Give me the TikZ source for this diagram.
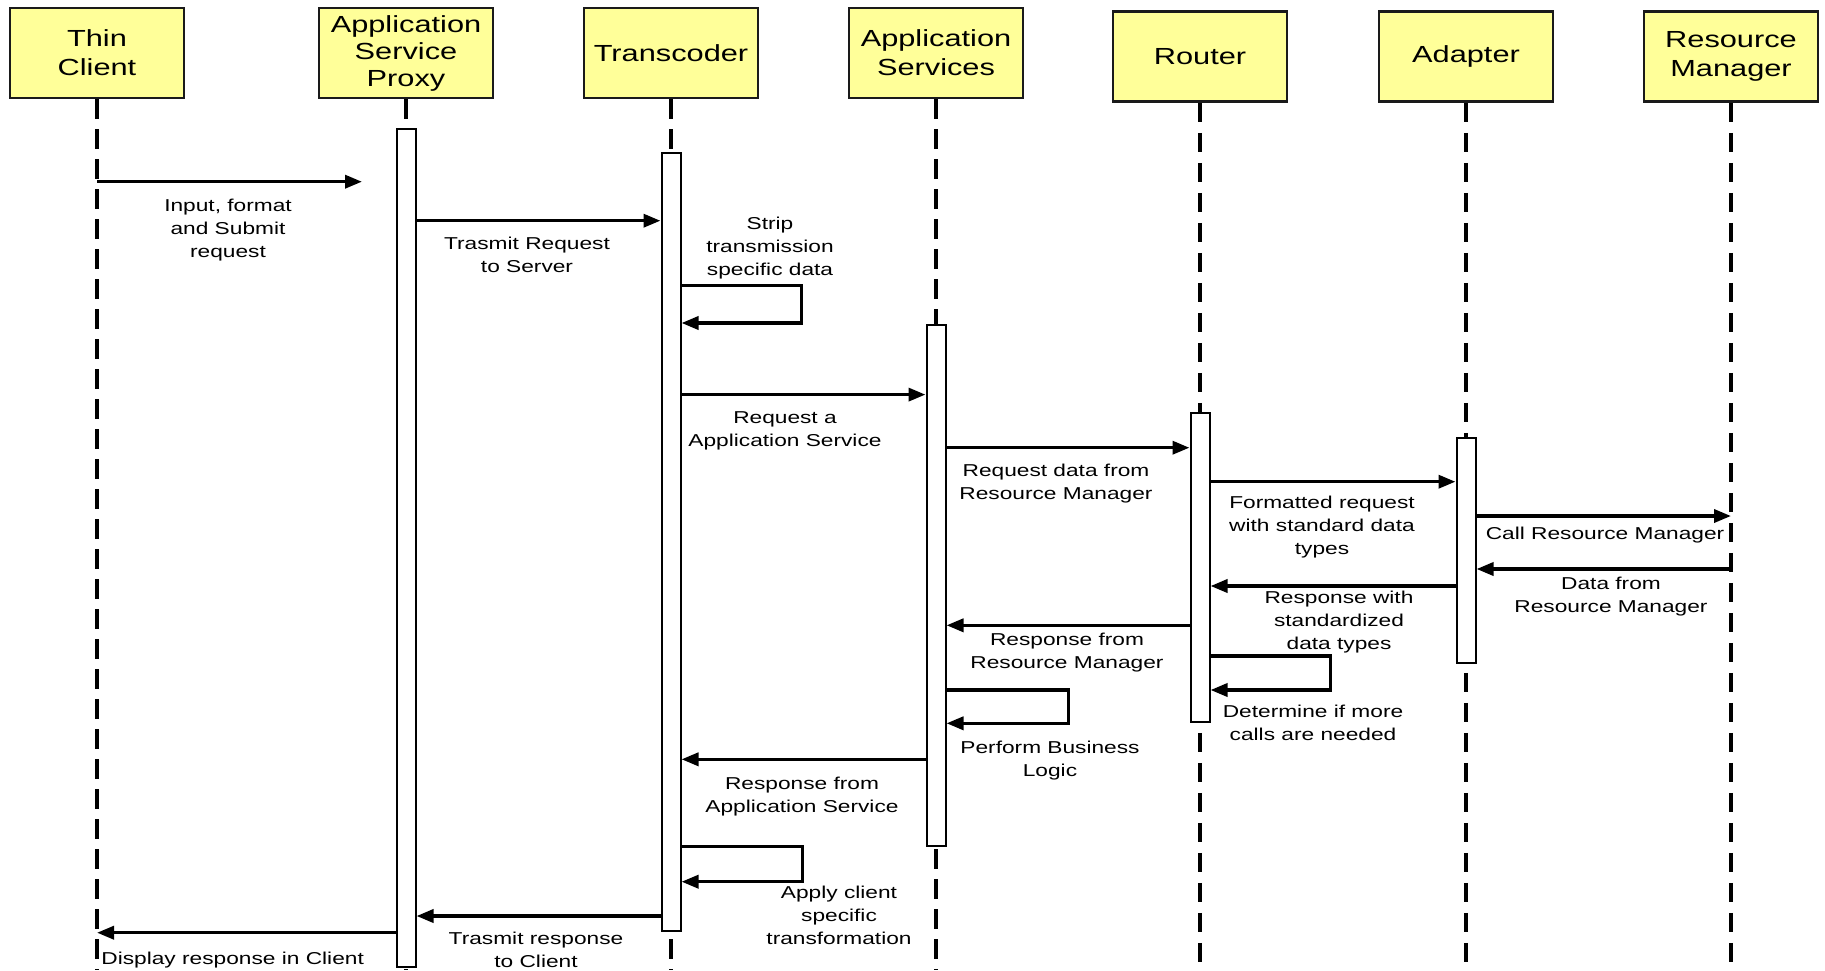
\documentclass[tikz,border=0pt]{standalone}
\usepackage{fontspec}
\setmainfont{Liberation Sans}
\newfontfamily\wide{Liberation Sans}[FakeStretch=1.32]
\usetikzlibrary{arrows.meta}
\definecolor{boxyellow}{HTML}{FFFF99}
\definecolor{boxline}{HTML}{1A1A1A}

\begin{document}
\begin{tikzpicture}[x=1pt, y=-1pt, thick]
\tikzstyle{actor} = [draw=boxline,fill=boxyellow,line width=2.5pt,minimum width=174pt,minimum height=90pt,align=center,inner sep=0pt,font=\wide\fontsize{23.3}{29}\selectfont]
\tikzstyle{bar} = [draw,fill=white,line width=2pt,minimum width=19pt,anchor=north,inner sep=0pt]
\tikzstyle{lifeline} = [line width=4pt,dash pattern=on 19.5pt off 10.5pt]
\tikzstyle{connector} = [-{Triangle[length=17pt,width=13pt]},line width=3.5pt]
\tikzstyle{note} = [font=\wide\fontsize{17.2}{22.8}\selectfont,align=center,inner sep=0pt,anchor=north]
\useasboundingbox (0,0) rectangle (1825,970);

% actors
\node[actor] (tcl) at (97,53) {Thin\\Client};
\node[actor,font=\wide\fontsize{23.3}{27}\selectfont] (asp) at (406,53) {Application\\Service\\Proxy};
\node[actor] (tc) at (671,53) {Transcoder};
\node[actor] (as) at (936,53) {Application\\Services};
\node[actor] (rt) at (1200,56.5) {Router};
\node[actor] (ad) at (1466,56.5) {Adapter};
\node[actor] (rm) at (1731,56.5) {Resource\\Manager};

% lifelines
\draw[lifeline] (tcl.south) -- (tcl.south |- 0,970);
\draw[lifeline] (asp.south) -- (asp.south |- 0,970);
\draw[lifeline] (tc.south) -- (tc.south |- 0,970);
\draw[lifeline] (as.south) -- (as.south |- 0,970);
\draw[lifeline] (rt.south) -- (rt.south |- 0,970);
\draw[lifeline] (ad.south) -- (ad.south |- 0,970);
\draw[lifeline] (rm.south) -- (rm.south |- 0,970);

% activations
\node[bar,minimum height=838pt] (basp) at (asp.south |- 0,128) {};
\node[bar,minimum height=778pt] (btc) at (tc.south |- 0,152) {};
\node[bar,minimum height=521pt] (bas) at (as.south |- 0,323.5) {};
\node[bar,minimum height=308.7pt] (brt) at (rt.south |- 0,412.3) {};
\node[bar,minimum height=224.7pt] (bad) at (ad.south |- 0,437.3) {};

% messages
\coordinate (sub) at (362,181.7);
\draw[connector] (tcl.south |- 0,181.7) -- (sub);
\draw[connector] (basp.east |- 0,220.7) -- (btc.west |- 0,220.7);
\draw[connector] (btc.east |- 0,285.7) -- ++(120,0) -- ++(0,37.3) -- (btc.east |- 0,323);
\draw[connector] (btc.east |- 0,394.6) -- (bas.west |- 0,394.6);
\draw[connector] (bas.east |- 0,447.7) -- (brt.west |- 0,447.7);
\draw[connector] (brt.east |- 0,481.7) -- (bad.west |- 0,481.7);
\draw[connector] (bad.east |- 0,516) -- (rm.south |- 0,516);
\draw[connector] (rm.south |- 0,569) -- (bad.east |- 0,569);
\draw[connector] (bad.west |- 0,586) -- (brt.east |- 0,586);
\draw[connector] (brt.west |- 0,625.3) -- (bas.east |- 0,625.3);
\draw[connector] (brt.east |- 0,656) -- ++(120,0) -- ++(0,34) -- (brt.east |- 0,690);
\draw[connector] (bas.east |- 0,690) -- ++(122,0) -- ++(0,33.3) -- (bas.east |- 0,723.3);
\draw[connector] (bas.west |- 0,759.3) -- (btc.east |- 0,759.3);
\draw[connector] (btc.east |- 0,846.7) -- ++(121,0) -- ++(0,35) -- (btc.east |- 0,881.7);
\draw[connector] (btc.west |- 0,916) -- (basp.east |- 0,916);
\draw[connector] (basp.west |- 0,932.7) -- (tcl.south |- 0,932.7);

% labels
\node[note] (n1) at (228,199) {Input, format\\and Submit\\ request};
\node[note] (n2) at (527,237) {Trasmit Request\\to Server};
\node[note] (n3) at (770,217) {Strip\\transmission\\specific data};
\node[note] (n4) at (785,411) {Request a\\Application Service};
\node[note] (n5) at (1056,464) {Request data from\\Resource Manager};
\node[note] (n6) at (1322,496) {Formatted request\\with standard data\\types};
\node[note] (n7) at (1605,527) {Call Resource Manager};
\node[note] (n8) at (1611,577) {Data from\\Resource Manager};
\node[note] (n9) at (1339,591) {Response with\\standardized\\data types};
\node[note] (n10) at (1067,633) {Response from\\Resource Manager};
\node[note] (n11) at (1313,705) {Determine if more\\calls are needed};
\node[note] (n12) at (1050,741) {Perform Business\\Logic};
\node[note] (n13) at (802,777) {Response from\\Application Service};
\node[note] (n14) at (839,886) {Apply client\\specific\\transformation};
\node[note] (n15) at (536,932) {Trasmit response\\to Client};
\node[note,anchor=north west] (n16) at (101,952) {Display response in Client};
\end{tikzpicture}
\end{document}
